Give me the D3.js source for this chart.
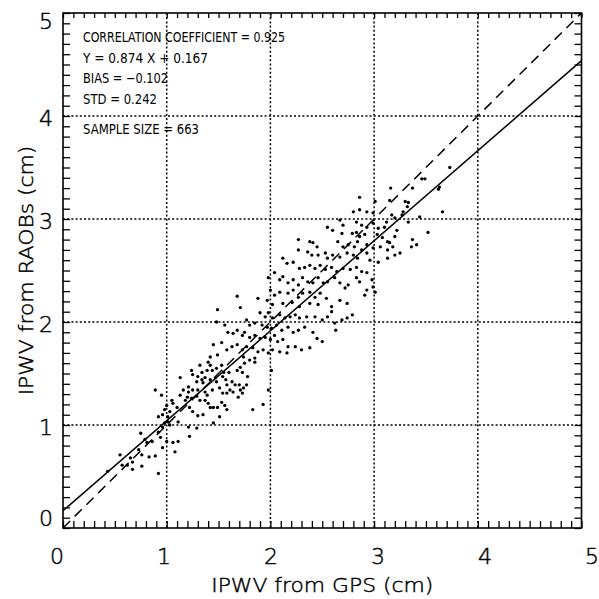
<!DOCTYPE html>
<html><head><meta charset="utf-8">
<script src="https://cdn.jsdelivr.net/npm/d3@7/dist/d3.min.js"></script>
<style>body{margin:0;background:#fff}svg{display:block}</style>
</head><body>
<svg id="chart" width="599" height="599"></svg>
<script>
// ---- data: [IPWV from GPS (cm), IPWV from RAOBs (cm)] ----
const lowerTail = [[0.96,0.98],[0.98,1.02],[1.03,1.00],[1.01,1.03],[1.11,1.03],[1.45,1.02],[1.21,0.98],[1.29,0.97],[0.92,0.93],[0.94,0.88],[0.75,0.92],[0.79,0.86],[0.86,0.84],[0.81,0.83],[1.00,0.84],[1.06,0.83],[1.11,0.84],[1.22,0.89],[0.96,0.78],[1.08,0.74],[0.73,0.76],[0.76,0.71],[0.83,0.69],[0.89,0.70],[0.55,0.71],[0.57,0.61],[0.65,0.68],[0.67,0.64],[0.62,0.61],[0.67,0.57],[0.76,0.60],[0.92,0.53],[0.43,0.55]];
const lowerBand = [[1.40,1.61],[1.42,1.58],[1.32,1.58],[1.24,1.53],[1.25,1.49],[1.34,1.51],[1.39,1.53],[1.44,1.53],[1.48,1.55],[1.53,1.58],[1.55,1.51],[1.60,1.51],[1.68,1.53],[1.71,1.56],[1.75,1.60],[1.80,1.63],[1.85,1.61],[1.78,1.47],[1.73,1.51],[1.30,1.47],[1.34,1.44],[1.35,1.41],[1.37,1.46],[1.29,1.42],[1.42,1.44],[1.47,1.46],[1.48,1.42],[1.54,1.47],[1.57,1.44],[1.58,1.39],[1.63,1.42],[1.66,1.39],[1.70,1.39],[1.74,1.36],[1.77,1.39],[1.16,1.34],[1.21,1.32],[1.25,1.34],[1.30,1.34],[1.37,1.32],[1.39,1.29],[1.44,1.34],[1.51,1.36],[1.54,1.31],[1.58,1.31],[1.61,1.34],[1.64,1.32],[1.71,1.34],[1.69,1.27],[1.73,1.31],[1.13,1.29],[1.20,1.27],[1.18,1.24],[1.24,1.26],[1.29,1.28],[1.32,1.24],[1.37,1.24],[1.40,1.21],[1.42,1.17],[1.45,1.17],[1.49,1.17],[1.53,1.22],[1.56,1.19],[1.58,1.15],[1.51,1.08],[0.89,1.34],[0.95,1.29],[1.05,1.24],[1.00,1.19],[1.06,1.21],[1.10,1.17],[1.03,1.13],[0.98,1.15],[0.96,1.10],[0.92,1.08],[1.01,1.08],[1.22,1.17],[1.25,1.13],[1.35,1.10],[1.30,1.09],[1.83,1.15],[1.98,1.34],[2.01,1.53],[1.13,1.46],[1.21,1.37],[1.93,1.20]];
const middleBand = [[1.68,2.25],[1.71,2.14],[1.49,2.12],[1.88,2.23],[2.59,2.10],[1.90,2.09],[1.95,2.05],[1.98,2.09],[2.02,2.04],[2.09,2.07],[2.14,2.04],[2.19,2.05],[2.24,2.07],[2.28,2.04],[2.35,2.05],[2.43,2.05],[2.50,2.02],[2.55,2.05],[1.77,2.02],[1.80,1.97],[1.85,1.99],[1.92,1.97],[1.97,1.95],[2.01,1.94],[2.06,1.97],[2.11,1.92],[2.17,1.95],[2.22,1.90],[2.27,1.92],[2.33,1.95],[2.41,1.90],[2.45,1.84],[2.50,1.81],[2.62,1.99],[2.63,1.92],[1.48,2.00],[1.56,1.97],[1.59,1.90],[1.64,1.89],[1.68,1.92],[1.73,1.87],[1.75,1.90],[1.80,1.85],[1.85,1.87],[1.90,1.84],[1.95,1.85],[2.00,1.83],[2.04,1.87],[2.07,1.81],[2.12,1.83],[2.17,1.76],[2.24,1.76],[2.30,1.73],[2.38,1.75],[1.45,1.78],[1.53,1.80],[1.58,1.73],[1.63,1.76],[1.68,1.78],[1.73,1.73],[1.77,1.76],[1.83,1.75],[1.88,1.71],[1.93,1.73],[1.98,1.70],[2.02,1.73],[2.09,1.71],[2.16,1.70],[1.42,1.66],[1.49,1.68],[1.74,1.66],[1.85,1.65],[2.79,2.07],[2.74,2.04],[2.69,2.02]];
const upperBand = [[2.80,3.07],[2.86,3.09],[2.93,3.07],[2.99,3.06],[3.01,3.17],[2.67,2.99],[2.70,2.94],[2.83,2.97],[2.88,2.94],[2.93,2.92],[2.99,2.96],[3.04,2.91],[3.17,3.04],[3.20,3.01],[2.55,2.92],[2.60,2.89],[2.69,2.86],[2.79,2.86],[2.83,2.87],[2.86,2.83],[2.91,2.85],[3.03,2.85],[3.08,2.82],[3.13,2.78],[3.20,2.83],[2.27,2.80],[2.38,2.78],[2.41,2.77],[2.45,2.73],[2.65,2.78],[2.70,2.73],[2.75,2.75],[2.81,2.73],[2.84,2.78],[2.88,2.70],[2.93,2.75],[2.99,2.72],[3.06,2.73],[3.13,2.70],[3.18,2.73],[2.27,2.70],[2.36,2.68],[2.40,2.65],[2.46,2.65],[2.53,2.67],[2.55,2.62],[2.60,2.65],[2.67,2.63],[2.74,2.67],[2.80,2.65],[2.84,2.62],[2.93,2.67],[2.96,2.60],[3.04,2.58],[3.13,2.62],[3.20,2.65],[2.12,2.62],[2.16,2.57],[2.22,2.58],[2.28,2.52],[2.33,2.53],[2.38,2.55],[2.43,2.52],[2.48,2.55],[2.53,2.51],[2.59,2.53],[2.64,2.49],[2.70,2.52],[2.77,2.51],[2.83,2.53],[2.88,2.49],[2.93,2.48],[2.98,2.41],[2.99,2.34],[2.93,2.31],[3.01,2.29],[1.98,2.43],[2.04,2.48],[2.09,2.41],[2.12,2.44],[2.17,2.38],[2.22,2.41],[2.27,2.36],[2.31,2.43],[2.36,2.39],[2.41,2.38],[2.46,2.43],[2.51,2.38],[2.55,2.39],[2.62,2.43],[2.67,2.38],[2.72,2.33],[2.75,2.36],[2.83,2.43],[2.86,2.39],[2.00,2.31],[2.04,2.26],[2.09,2.29],[2.17,2.28],[2.22,2.31],[2.27,2.24],[2.31,2.28],[2.38,2.29],[2.43,2.24],[2.48,2.28],[2.54,2.23],[2.59,2.15],[2.67,2.21],[2.74,2.18],[2.91,2.26],[1.97,2.21],[2.02,2.17],[2.12,2.18],[2.21,2.19],[2.28,2.15],[2.38,2.18],[2.46,2.17]];
const upperTail = [[3.73,3.50],[3.63,3.31],[3.62,3.29],[3.49,3.39],[3.46,3.39],[3.37,3.30],[3.16,3.30],[3.15,3.18],[2.86,3.21],[3.30,3.17],[3.32,3.12],[3.33,3.16],[3.28,3.07],[3.27,3.04],[3.33,2.97],[3.44,3.02],[3.66,3.07],[3.52,2.87],[3.37,2.80],[3.41,2.75],[3.36,2.73],[3.12,2.97],[3.10,2.92],[3.22,2.89],[3.15,2.77],[3.25,2.67]];

const axisTicks = [0, 1, 2, 3, 4, 5];
const gridValues = [1, 2, 3, 4];
const fitSlope = 0.874, fitIntercept = 0.167;
const statLines = ["CORRELATION COEFFICIENT = 0.925", "Y = 0.874 X + 0.167", "BIAS = \u22120.102", "STD = 0.242", "SAMPLE SIZE = 663"];
const xTitle = "IPWV from GPS (cm)";
const yTitle = "IPWV from RAOBs (cm)";

// ---- layout ----
const L = 63, R = 581.5, T = 13, B = 528;
const svg = d3.select("#chart");
const x = d3.scaleLinear().domain([0, 5]).range([L, R]);
const y = d3.scaleLinear().domain([0, 5]).range([B, T]);
const xLabelPos = d3.scaleLinear().domain([0, 5]).range([57, 592]);
const points = [].concat(lowerTail, lowerBand, middleBand, upperBand, upperTail);

svg.append("defs").append("clipPath").attr("id", "clip")
  .append("rect").attr("x", L).attr("y", T).attr("width", R - L).attr("height", B - T);

// grid
const grid = svg.append("g").attr("stroke", "#000").attr("stroke-width", 1.5).attr("stroke-dasharray", "2,2.2");
grid.selectAll("line.v").data(gridValues).join("line").attr("class", "v")
  .attr("x1", d => x(d)).attr("x2", d => x(d)).attr("y1", T).attr("y2", B);
grid.selectAll("line.h").data(gridValues).join("line").attr("class", "h")
  .attr("y1", d => y(d)).attr("y2", d => y(d)).attr("x1", L).attr("x2", R);

// points
svg.append("g").selectAll("circle").data(points).join("circle")
  .attr("cx", d => x(d[0])).attr("cy", d => y(d[1])).attr("r", 1.65).attr("fill", "#000");

// lines
const lines = svg.append("g").attr("clip-path", "url(#clip)").attr("fill", "none").attr("stroke", "#000").attr("stroke-width", 1.5);
lines.append("path").attr("stroke-dasharray", "10,6.5")
  .attr("d", d3.line()([[x(0), y(0)], [x(5), y(5)]]));
lines.append("path")
  .attr("d", d3.line()([[x(0), y(fitIntercept)], [x(5), y(fitSlope * 5 + fitIntercept)]]));

// axes (minor ticks every 0.1, inward)
const minor = d3.range(0, 50.5).map(i => i / 10);
function styleAxis(g) { g.select(".domain").remove(); g.selectAll("line").attr("stroke", "#000").attr("stroke-width", 1.3); }
svg.append("g").attr("transform", `translate(0,${B})`).call(d3.axisBottom(x).tickValues(minor).tickSize(-7).tickFormat("")).call(styleAxis);
svg.append("g").attr("transform", `translate(0,${T})`).call(d3.axisTop(x).tickValues(minor).tickSize(-5).tickFormat("")).call(styleAxis);
svg.append("g").attr("transform", `translate(${L},0)`).call(d3.axisLeft(y).tickValues(minor).tickSize(-7).tickFormat("")).call(styleAxis);
svg.append("g").attr("transform", `translate(${R},0)`).call(d3.axisRight(y).tickValues(minor).tickSize(-7).tickFormat("")).call(styleAxis);

// frame
svg.append("rect").attr("x", L).attr("y", T).attr("width", R - L).attr("height", B - T)
  .attr("fill", "none").attr("stroke", "#000").attr("stroke-width", 1.6);

// tick labels
const labelFont = "'DejaVu Sans', 'Liberation Sans', sans-serif";
function thin(sel) { sel.attr("font-family", labelFont).attr("font-weight", 200).attr("fill", "#000").attr("stroke", "#000").attr("stroke-width", 0.45); }
svg.append("g").selectAll("text").data(axisTicks).join("text")
  .attr("x", d => xLabelPos(d)).attr("y", 564).attr("text-anchor", "middle")
  .attr("font-size", 22).call(thin).text(d => d);
svg.append("g").selectAll("text").data(axisTicks).join("text")
  .attr("x", 53).attr("y", d => Math.max(T + 8, Math.min(B - 10, y(d) + 2)))
  .attr("dy", "0.36em").attr("text-anchor", "end")
  .attr("font-size", 22).call(thin).text(d => d);

// axis titles
const xt = svg.append("text").attr("x", (L + R) / 2).attr("y", 592).attr("text-anchor", "middle")
  .attr("font-size", 20).call(thin).text(xTitle);
const xw = xt.node().getComputedTextLength();
const stretch = 222 / xw;
xt.attr("textLength", 222).attr("lengthAdjust", "spacingAndGlyphs");
const yt = svg.append("text").attr("transform", `translate(33,${(T + B) / 2}) rotate(-90)`).attr("text-anchor", "middle")
  .attr("font-size", 20).call(thin).text(yTitle);
const yw = yt.node().getComputedTextLength();
yt.attr("textLength", yw * stretch).attr("lengthAdjust", "spacingAndGlyphs");

// statistics text
const statWidths = [202, 125, 85, 74, 116];
svg.append("g").selectAll("text").data(statLines).join("text")
  .attr("x", 83).attr("y", (d, i) => 42 + i * 20.7 + (i === 4 ? 9 : 0))
  .attr("font-family", "'DejaVu Sans Condensed', 'DejaVu Sans', sans-serif").attr("font-stretch", "condensed")
  .attr("font-size", 14).attr("fill", "#000")
  .attr("textLength", (d, i) => statWidths[i]).attr("lengthAdjust", "spacingAndGlyphs")
  .text(d => d);
</script>
</body></html>
